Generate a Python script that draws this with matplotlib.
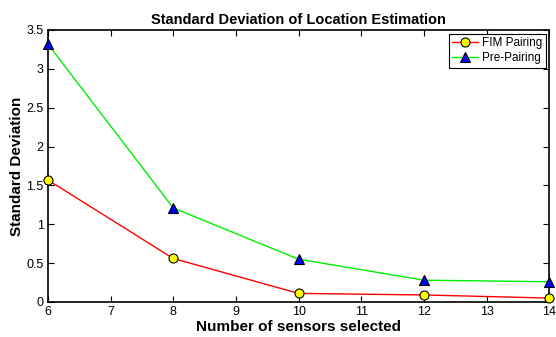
import matplotlib
matplotlib.use("Agg")
import matplotlib.pyplot as plt

plt.rcParams['font.family'] = ['Liberation Sans', 'DejaVu Sans']

sensors = [6, 8, 10, 12, 14]
fim_pairing = [1.57, 0.56, 0.11, 0.09, 0.05]
pre_pairing = [3.32, 1.21, 0.55, 0.28, 0.26]

fig = plt.figure(figsize=(5.56, 3.37), dpi=100)
ax = fig.add_axes([0.086, 0.104, 0.902, 0.807])

ax.plot(sensors, fim_pairing, '-o', color='#ff0000', lw=1, mfc='#ffff00', mec='k',
        ms=6.5, mew=0.8, label='FIM Pairing', clip_on=False, zorder=3)
ax.plot(sensors, pre_pairing, '-^', color='#00ee00', lw=1, mfc='#0000ff', mec='k',
        ms=7, mew=0.8, label='Pre-Pairing', clip_on=False, zorder=3)

ax.set_xlim(6, 14)
ax.set_ylim(0, 3.5)
ax.set_xticks(range(6, 15))
ax.set_yticks([0, 0.5, 1, 1.5, 2, 2.5, 3, 3.5])
ax.set_yticklabels(['0', '0.5', '1', '1.5', '2', '2.5', '3', '3.5'])
ax.tick_params(direction='in', top=True, right=True, labelsize=9, length=4, width=0.8, pad=3)
for s in ax.spines.values():
    s.set_linewidth(1.2)

ax.set_title('Standard Deviation of Location Estimation', fontsize=10.5, fontweight='bold', pad=4)
ax.set_xlabel('Number of sensors selected', fontsize=11, fontweight='bold', labelpad=1)
ax.set_ylabel('Standard Deviation', fontsize=11, fontweight='bold', labelpad=2)

leg = ax.legend(loc='upper right', fontsize=8.5, fancybox=False, edgecolor='k',
                framealpha=1, borderpad=0.3, handlelength=2.2, handletextpad=0.3,
                labelspacing=0.25, borderaxespad=0.3)
leg.get_frame().set_linewidth(0.8)

fig.savefig('out.png', dpi=100)
